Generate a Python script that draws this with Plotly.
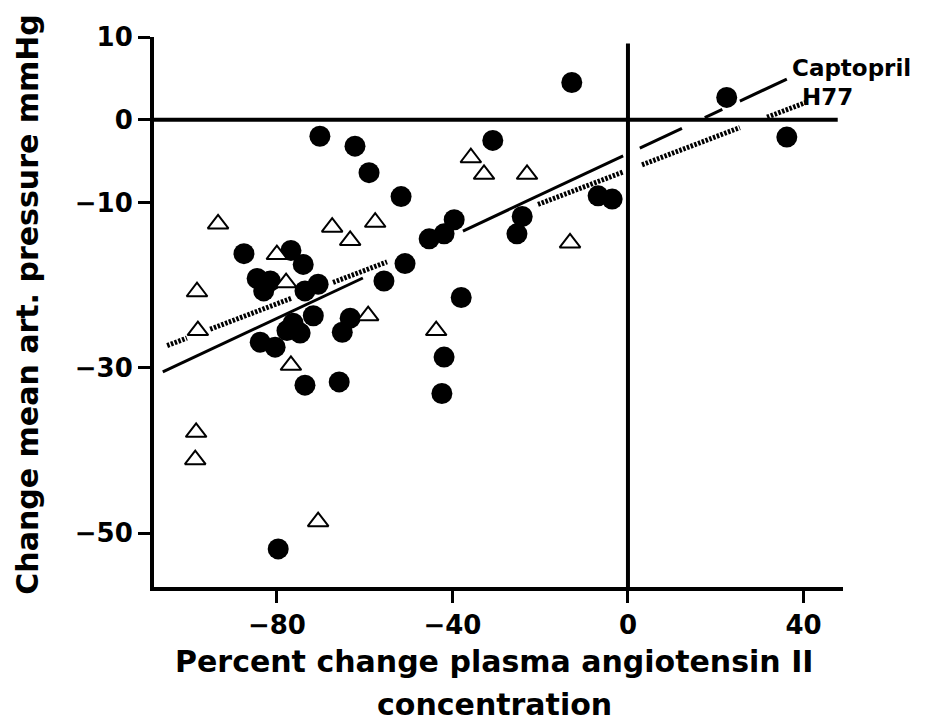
import plotly.graph_objects as go

# Filled circles (Captopril)
capto_x = [-12.8, 22.5, 36.2, -6.8, -3.6, -30.8, -51.7, -39.6, -41.9, -45.3,
           -24.1, -25.3, -50.8, -55.6, -38.0, -41.9, -42.4, -70.2, -62.2, -59.0,
           -76.8, -74.0, -73.6, -70.6, -87.5, -84.5, -81.5, -83.0, -71.7, -76.3,
           -77.7, -74.7, -83.8, -80.4, -63.3, -65.1, -73.6, -65.8, -79.7]
capto_y = [4.5, 2.7, -2.1, -9.2, -9.6, -2.5, -9.3, -12.1, -13.8, -14.4,
           -11.7, -13.8, -17.4, -19.5, -21.5, -28.7, -33.1, -2.0, -3.2, -6.4,
           -15.8, -17.5, -20.7, -19.9, -16.2, -19.2, -19.5, -20.7, -23.7, -24.6,
           -25.5, -25.8, -26.9, -27.5, -24.0, -25.7, -32.1, -31.7, -51.9]

# Open triangles (H77)
h77_x = [-93.4, -67.4, -63.3, -57.6, -80.0, -77.9, -98.2, -98.0, -59.2, -76.8,
         -98.4, -98.6, -70.6, -35.8, -32.8, -23.0, -13.2, -43.7]
h77_y = [-12.6, -13.0, -14.6, -12.4, -16.3, -19.7, -20.8, -25.5, -23.7, -29.7,
         -37.8, -41.1, -48.6, -4.6, -6.6, -6.6, -14.9, -25.5]

# Regression lines (slope, intercept) and drawn x-segments
capto_slope, capto_int = 0.249, -4.1
capto_segments = [(-106.0, -60.4), (-37.6, -1.1), (2.7, 12.3), (17.5, 21.5), (25.5, 36.2)]
h77_slope, h77_int = 0.202, -6.1
h77_segments = [(-105.0, -100.5), (-95.2, -76.5), (-67.2, -54.9), (-20.5, -1.1),
                (3.2, 25.5), (31.7, 40.8)]

x_ticks = [-80, -40, 0, 40]
y_ticks = [10, 0, -10, -30, -50]
x_range = [-108, 49]
y_range = [-56.5, 10]


def seg_xy(segs, m, b):
    xs, ys = [], []
    for x0, x1 in segs:
        xs += [x0, x1, None]
        ys += [m * x0 + b, m * x1 + b, None]
    return xs, ys


FONT = "DejaVu Sans"
fig = go.Figure()

cx, cy = seg_xy(capto_segments, capto_slope, capto_int)
fig.add_trace(go.Scatter(x=cx, y=cy, mode="lines", line=dict(color="black", width=3),
                         hoverinfo="skip", showlegend=False))
hx, hy = seg_xy(h77_segments, h77_slope, h77_int)
fig.add_trace(go.Scatter(x=hx, y=hy, mode="lines",
                         line=dict(color="black", width=5, dash="2.5px,1.5px"),
                         hoverinfo="skip", showlegend=False))

fig.add_trace(go.Scatter(x=capto_x, y=capto_y, mode="markers", name="Captopril",
                         marker=dict(symbol="circle", size=21, color="black"),
                         showlegend=False, cliponaxis=False))
fig.add_trace(go.Scatter(x=h77_x, y=h77_y, mode="markers", name="H77",
                         marker=dict(symbol="triangle-up", size=18, color="white",
                                     line=dict(color="black", width=2)),
                         showlegend=False, cliponaxis=False))

# Reference lines at x=0 and y=0
fig.add_shape(type="line", x0=x_range[0], x1=47.8, y0=0, y1=0,
              line=dict(color="black", width=4), layer="below")
fig.add_shape(type="line", x0=0, x1=0, y0=y_range[0], y1=9.2,
              line=dict(color="black", width=4), layer="below")

fig.add_annotation(text="<b>Captopril</b>", x=0.923, y=0.944, xref="paper", yref="paper",
                   xanchor="left", yanchor="middle", showarrow=False,
                   font=dict(family=FONT, size=23, color="black"))
fig.add_annotation(text="<b>H77</b>", x=0.9375, y=0.891, xref="paper", yref="paper",
                   xanchor="left", yanchor="middle", showarrow=False,
                   font=dict(family=FONT, size=23, color="black"))

fig.add_annotation(text="<b>Percent change plasma angiotensin II</b>", x=0.494, y=-0.135,
                   xref="paper", yref="paper", xanchor="center", yanchor="middle",
                   showarrow=False, font=dict(family=FONT, size=30, color="black"))
fig.add_annotation(text="<b>concentration</b>", x=0.494, y=-0.213,
                   xref="paper", yref="paper", xanchor="center", yanchor="middle",
                   showarrow=False, font=dict(family=FONT, size=30, color="black"))
fig.add_annotation(text="<b>Change mean art. pressure mmHg</b>", x=-0.183, y=0.515,
                   xref="paper", yref="paper", xanchor="center", yanchor="middle",
                   textangle=-90, showarrow=False,
                   font=dict(family=FONT, size=30, color="black"))

fig.update_layout(
    width=941, height=720,
    margin=dict(l=146, r=106, t=29, b=140.5),
    paper_bgcolor="white", plot_bgcolor="white",
    xaxis=dict(range=x_range, tickvals=x_ticks, ticktext=[f"{v}".replace("-", "\u2212") for v in x_ticks],
               showgrid=False, zeroline=False, showline=True, linewidth=4, linecolor="black",
               ticks="outside", ticklen=12, tickwidth=3, tickcolor="black",
               tickfont=dict(family=FONT, size=26, color="black", weight="bold")),
    yaxis=dict(range=y_range, tickvals=y_ticks, ticktext=[f"{v}".replace("-", "\u2212") for v in y_ticks],
               showgrid=False, zeroline=False, showline=True, linewidth=4, linecolor="black",
               ticks="outside", ticklen=12, tickwidth=3, tickcolor="black",
               tickfont=dict(family=FONT, size=26, color="black", weight="bold")),
)

fig.write_html("out.html")
